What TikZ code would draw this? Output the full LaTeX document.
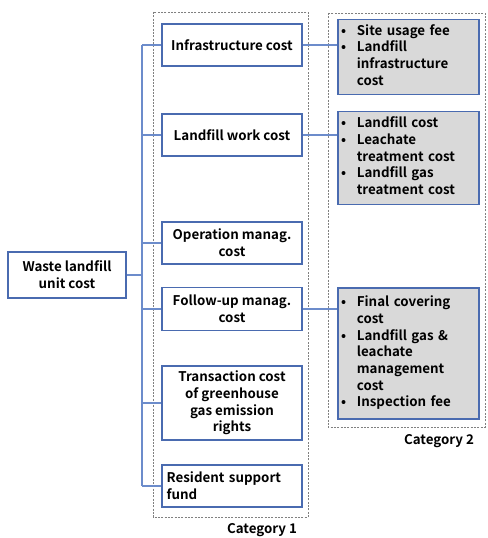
\documentclass[tikz,border=0pt]{standalone}
\usepackage{fontspec}
\setmainfont{Noto Sans CJK KR}[BoldFont={Noto Sans CJK KR Bold}]
\usetikzlibrary{calc}
\definecolor{bord}{HTML}{4A6BB0}
\definecolor{connc}{HTML}{6C8CCB}
\definecolor{grayfill}{HTML}{D9D9D9}
\definecolor{dashc}{HTML}{808080}
\begin{document}
\begin{tikzpicture}[x=0.75pt,y=-0.75pt,
  font=\bfseries\fontsize{10}{12.5}\selectfont,
  box/.style={draw=bord,line width=0.9pt,fill=white,inner sep=2pt,align=center},
  cbox/.style={box,minimum width=105pt},
  listbox/.style={draw=bord,line width=0.9pt,fill=grayfill,minimum width=105.75pt,text width=101pt,inner xsep=2.4pt,align=left},
  conn/.style={draw=connc,line width=0.9pt},
  catbox/.style={draw=dashc,dashed,dash pattern=on 1.5pt off 1pt,line width=0.5pt},
  catlabel/.style={text=black}]
\useasboundingbox (0,0) rectangle (487,538);
% category frames
\draw[catbox] (153,12) rectangle (308,517);
\draw[catbox] (328,13) rectangle (485,427);
% root
\node[box,minimum width=88.5pt,minimum height=34.5pt] (root) at (67,275) {Waste landfill\\unit cost};
% category 1
\node[cbox,minimum height=31.5pt] (infra) at (232,45) {Infrastructure cost};
\node[cbox,minimum height=31.5pt] (work) at (232,135) {Landfill work cost};
\node[cbox,minimum height=31.5pt] (oper) at (232,243) {Operation manag.\\cost};
\node[cbox,minimum height=32.25pt] (follow) at (232,309) {Follow-up manag.\\cost};
\node[cbox,minimum height=55.5pt] (trans) at (232,403) {Transaction cost\\of greenhouse\\gas emission\\rights};
\node[cbox,minimum height=31.5pt,text width=98pt,align=left] (res) at (232,486) {Resident support\\fund};
% category 2
\node[listbox,minimum height=51pt] (b1) at (408.5,57) {\begin{tabular}{@{}l@{\hspace{8pt}}l@{}}•&Site usage fee\\•&Landfill\\&infrastructure\\&cost\end{tabular}};
\node[listbox,minimum height=67.5pt] (b2) at (408.5,158) {\begin{tabular}{@{}l@{\hspace{8pt}}l@{}}•&Landfill cost\\•&Leachate\\&treatment cost\\•&Landfill gas\\&treatment cost\end{tabular}};
\node[listbox,minimum height=98.25pt] (b3) at (408.5,353.5) {\begin{tabular}{@{}l@{\hspace{8pt}}l@{}}•&Final covering\\&cost\\•&Landfill gas \&\\&leachate\\&management\\&cost\\•&Inspection fee\end{tabular}};
% bus
\coordinate (bus) at (142,275);
\draw[conn] (root.east) -- (root.east -| bus);
\draw[conn] (infra.west -| bus) -- (res.west -| bus);
\foreach \n in {infra,work,oper,follow,trans,res}
  \draw[conn] (\n.west -| bus) -- (\n.west);
\draw[conn] (infra.east) -- (infra.east -| b1.west);
\draw[conn] (work.east) -- (work.east -| b2.west);
\draw[conn] (follow.east) -- (follow.east -| b3.west);
% labels
\node[catlabel] (cat1) at (262,530) {Category 1};
\node[catlabel] (cat2) at (439,441) {Category 2};
\end{tikzpicture}
\end{document}
